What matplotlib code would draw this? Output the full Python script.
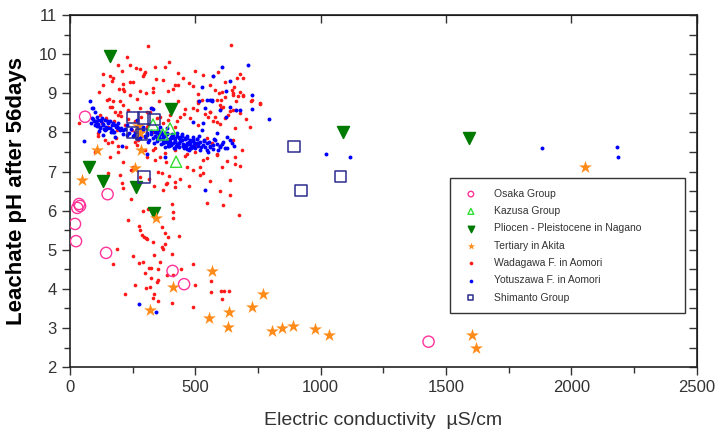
import numpy as np
import matplotlib
matplotlib.use('Agg')
import matplotlib.pyplot as plt
from matplotlib.ticker import MultipleLocator, NullFormatter

plt.rcParams['font.family'] = ['Liberation Sans', 'DejaVu Sans']

# Osaka Group
osaka_x = [60, 150, 36, 29, 40, 20, 24, 144, 409, 455, 1430]
osaka_y = [8.40, 6.42, 6.17, 6.07, 6.12, 5.66, 5.22, 4.92, 4.46, 4.12, 2.65]

# Kazusa Group
kazusa_x = [331, 399, 370, 423]
kazusa_y = [8.20, 8.10, 7.95, 7.25]

# Pliocen - Pleistocene in Nagano
nagano_x = [160, 403, 1089, 1591, 75, 130, 263, 335]
nagano_y = [9.95, 8.61, 8.01, 7.86, 7.11, 6.76, 6.61, 5.94]

# Tertiary in Akita
akita_x = [106, 47, 259, 283, 272, 279, 342, 565, 409, 770, 724, 634, 319, 554,
           630, 805, 844, 888, 977, 1033, 1605, 1621, 2053]
akita_y = [7.55, 6.78, 7.10, 7.55, 8.17, 7.98, 5.81, 4.46, 4.05, 3.87, 3.54, 3.41, 3.46, 3.26,
           3.02, 2.93, 3.00, 3.06, 2.97, 2.82, 2.82, 2.49, 7.12]

# Wadagawa F. in Aomori
wada_x = [311, 229, 190, 241, 263, 279, 339, 393, 379, 209, 298, 296, 133, 160, 498, 432,
          167, 213, 239, 343, 419, 432, 476, 213, 197, 332, 279, 392, 117, 303, 509, 239,
          155, 199, 170, 266, 356, 432, 509, 213, 160, 326, 492, 179, 306,
          642, 678, 667, 571, 578, 595, 608, 647, 651, 680, 688, 664, 671, 604, 598, 525,
          721, 757, 640, 664, 558, 551, 578, 604,
          209, 335, 383, 419, 372, 407, 409, 412, 274, 365, 286, 303, 380, 392, 436, 365,
          369, 189, 335, 405, 275, 290, 359, 173, 492, 316, 325, 352, 441, 412, 325, 352,
          345, 303, 259, 319, 498, 561, 561, 602, 614, 635, 607, 336, 330, 219, 407, 492,
          545, 611, 675, 310, 295, 306, 388,
          37, 113, 193, 210, 193, 266, 332, 306, 359, 383, 339, 213, 252, 365, 385, 419,
          465, 492, 518, 532, 585, 605, 638, 658, 678, 684, 718, 651, 598, 565, 532, 465,
          508, 545, 585, 618, 558, 611, 651, 678, 757, 724, 688, 651, 618, 585, 512, 505,
          458, 438, 392, 419, 359, 319, 279, 232, 199, 166, 146, 126, 153, 186, 219, 246,
          306, 332, 272, 166, 140, 100, 159, 193,
          # extra points read from the denser parts of the cloud
          120, 145, 175, 205, 230, 258, 285, 312, 345, 372, 398, 425, 455, 480, 510, 540,
          570, 600, 630, 660, 700, 130, 170, 215, 250, 290, 330, 370, 410, 450, 490, 530,
          560, 590, 620, 655, 690, 110, 150, 185, 225, 260, 300, 340, 380, 420, 460, 500,
          545, 585, 625, 660, 150, 200, 245, 280, 315, 350, 395, 440, 475, 520, 560, 600,
          640, 245, 290, 230, 280, 330, 380, 250, 300, 350]
wada_y = [10.22, 9.92, 9.72, 9.72, 9.64, 9.61, 9.68, 9.81, 9.67, 9.58, 9.55, 9.49, 9.50, 9.43, 9.58, 9.51,
          9.32, 9.25, 9.30, 9.36, 9.21, 9.21, 9.26, 9.10, 9.10, 9.13, 9.07, 9.07, 9.03, 9.00, 8.98, 8.95,
          8.85, 8.79, 8.79, 8.86, 8.79, 8.79, 8.74, 8.70, 8.64, 8.62, 8.62, 8.53, 8.51,
          10.24, 9.49, 9.38, 9.44, 9.09, 9.00, 9.04, 9.09, 8.96, 9.02, 8.94, 8.81, 8.92, 8.83, 8.70, 8.83,
          8.79, 8.73, 8.55, 8.57, 8.53, 8.39, 8.40, 8.62,
          6.71, 6.63, 6.68, 6.61, 6.54, 6.17, 5.96, 5.80, 5.61, 5.57, 5.38, 5.29, 5.42, 5.32, 5.35, 5.08,
          5.01, 5.02, 4.86, 4.89, 4.67, 4.69, 4.69, 4.63, 4.63, 4.54, 4.54, 4.52, 4.50, 4.35, 4.29, 4.23,
          4.18, 4.03, 4.11, 4.04, 4.11, 4.20, 3.93, 3.94, 3.94, 3.94, 3.73, 3.86, 3.77, 3.86, 3.65, 3.54,
          6.20, 6.14, 5.88, 6.03, 5.33, 5.27, 4.35,
          8.23, 7.98, 7.65, 7.25, 7.51, 7.68, 7.55, 7.38, 7.38, 7.25, 7.29, 6.57, 7.12, 6.95, 6.70, 6.74,
          7.12, 7.04, 7.12, 6.95, 7.42, 7.12, 6.78, 7.38, 7.15, 7.55, 8.15, 7.81, 7.64, 7.72, 7.29, 7.46,
          7.68, 7.85, 8.27, 8.36, 8.53, 8.66, 8.57, 8.49, 8.74, 8.83, 8.96, 9.00, 8.91, 8.83, 8.79, 8.57,
          8.59, 8.40, 8.32, 8.15, 8.40, 8.53, 8.62, 8.57, 8.53, 8.66, 8.83, 8.23, 8.15, 8.06, 8.19, 8.06,
          8.15, 8.02, 7.81, 7.76, 7.81, 7.51, 7.38, 8.45,
          8.45, 8.38, 8.30, 8.42, 8.35, 8.28, 8.40, 8.20, 8.36, 8.25, 8.44, 8.30, 8.46, 8.38, 8.18, 8.48,
          8.30, 8.22, 8.45, 8.10, 8.35, 9.20, 9.40, 9.05, 9.30, 9.45, 9.02, 9.35, 9.12, 9.40, 9.18, 9.48,
          9.22, 9.55, 9.28, 9.15, 9.40, 7.90, 7.72, 7.85, 7.62, 7.75, 7.55, 7.60, 7.48, 7.56, 7.40, 7.50,
          7.35, 7.45, 7.28, 7.20, 6.95, 6.90, 7.05, 6.85, 6.80, 7.00, 6.88, 6.82, 6.62, 6.90, 6.75, 6.50,
          6.40, 6.30, 6.00, 5.75, 5.50, 5.20, 5.15, 4.85, 4.40, 3.70]

# Yotuszawa F. in Aomori
yotu_x = [80, 93, 100, 330, 548, 516,
          607, 711, 638, 525, 624, 724, 558, 568, 638, 724, 664, 598, 678, 622, 794, 538,
          56, 89, 106, 113, 126, 140, 153, 173, 120, 146, 166, 193, 212, 133, 179, 226,
          206, 266, 279, 306, 325, 359, 385, 412, 438, 465, 492, 518, 545, 571, 598, 425,
          452, 478, 399, 372, 345, 492, 532, 565, 571, 645, 625, 585, 538, 306, 255, 379,
          418, 525, 512, 275, 343, 1023, 1116, 1882, 2180, 2185,
          85, 92, 98, 104, 110, 118, 124, 132, 138, 145, 152, 160, 168, 175, 182, 190,
          198, 205, 212, 220, 228, 236, 244, 252, 260, 268, 276, 284, 292, 300, 308, 316,
          324, 332, 340, 348, 356, 364, 372, 380, 388, 396, 404, 412, 420, 428, 436, 444,
          452, 460, 468, 476, 484, 492, 500, 510, 520, 530, 540, 555, 570, 585, 600,
          350, 362, 375, 385, 395, 405, 415, 425, 435, 445, 455, 465, 475, 490, 505, 515,
          535, 550, 560, 580, 610, 625, 392, 402, 418, 432, 448, 462, 478, 495, 340, 356,
          95, 108, 122, 136, 150, 164, 178, 192, 88, 102, 116, 130, 144, 158, 172, 186,
          360, 370, 380, 390, 400, 410, 420, 430, 440, 450, 460, 470, 480, 490, 500, 510,
          365, 378, 388, 398, 408, 422, 436, 446, 456, 468, 482, 496, 508, 522, 536, 548,
          300, 312, 322, 334, 346, 280, 290, 560, 575, 590, 605, 620, 640, 655]
yotu_y = [8.79, 8.62, 8.53, 8.60, 8.83, 8.79,
          9.67, 9.72, 9.32, 9.15, 9.06, 8.96, 8.83, 8.79, 8.64, 8.59, 8.57, 8.56, 8.57, 8.40, 8.34, 8.62,
          7.79, 8.62, 8.40, 8.32, 8.36, 8.32, 8.27, 8.23, 8.15, 8.10, 8.06, 8.10, 8.06, 7.93, 7.89, 7.93,
          7.64, 8.32, 7.98, 7.93, 8.62, 8.15, 7.98, 7.93, 7.89, 7.85, 7.81, 7.76, 7.72, 7.68, 7.64, 7.68,
          7.64, 7.59, 7.76, 7.81, 7.85, 8.27, 8.23, 8.83, 9.43, 7.74, 7.89, 7.98, 6.54, 7.46, 7.93, 7.38,
          7.59, 8.06, 7.70, 3.61, 3.42, 7.44, 7.38, 7.61, 7.62, 7.36,
          8.25, 8.35, 8.18, 8.30, 8.22, 8.12, 8.28, 8.20, 8.05, 8.15, 8.30, 8.10, 8.20, 8.02, 8.15, 8.25,
          8.05, 8.12, 7.95, 8.08, 8.18, 7.98, 8.08, 7.90, 8.02, 7.85, 8.10, 7.92, 8.05, 7.88, 7.98, 7.80,
          7.95, 7.85, 8.02, 7.78, 7.92, 7.70, 7.88, 7.75, 7.95, 7.82, 7.68, 7.85, 7.75, 7.90, 7.62, 7.80,
          7.70, 7.85, 7.58, 7.75, 7.65, 7.78, 7.60, 7.72, 7.55, 7.68, 7.62, 7.75, 7.58, 7.70, 7.62,
          8.05, 8.00, 7.95, 8.10, 7.65, 7.95, 7.60, 7.98, 7.85, 7.95, 7.60, 7.92, 7.55, 7.88, 7.82, 7.92,
          7.80, 7.50, 7.65, 7.80, 7.75, 7.60, 7.72, 7.88, 7.78, 7.70, 7.80, 7.66, 7.74, 7.64, 7.90, 7.96,
          8.28, 8.16, 8.32, 8.08, 8.24, 8.00, 8.18, 8.12, 8.38, 8.26, 8.04, 8.22, 8.08, 8.28, 8.00, 8.16,
          7.84, 7.72, 7.90, 7.66, 7.82, 7.74, 7.86, 7.70, 7.78, 7.66, 7.82, 7.70, 7.80, 7.62, 7.74, 7.66,
          7.96, 7.62, 7.80, 7.70, 7.88, 7.64, 7.72, 7.92, 7.68, 7.74, 7.60, 7.70, 7.84, 7.62, 7.78, 7.56,
          7.90, 7.76, 8.04, 7.72, 7.98, 7.86, 8.14, 7.62, 7.82, 7.54, 7.70, 7.60, 7.80, 7.66]

# Shimanto Group
shim_x = [251, 295, 335, 250, 285, 295, 893, 921, 1079]
shim_y = [8.39, 8.37, 8.32, 8.00, 7.95, 6.86, 7.63, 6.51, 6.88]

fig = plt.figure(figsize=(7.18, 4.36), dpi=100)
ax = fig.add_axes([0.0975, 0.158, 0.873, 0.8075])

ax.scatter(osaka_x, osaka_y, s=65, marker='o', facecolors='none', edgecolors='#ff3399',
           linewidths=1.0, label='Osaka Group', zorder=3)
ax.scatter(kazusa_x, kazusa_y, s=65, marker='^', facecolors='none', edgecolors='#33dd33',
           linewidths=1.0, label='Kazusa Group', zorder=3)
ax.scatter(nagano_x, nagano_y, s=75, marker='v', color='#007a00',
           label='Pliocen - Pleistocene in Nagano', zorder=3)
ax.scatter(akita_x, akita_y, s=95, marker='*', color='#ff8c1a', linewidths=0,
           label='Tertiary in Akita', zorder=3)
ax.scatter(wada_x, wada_y, s=7, marker='o', color='#ff1a1a', linewidths=0,
           label='Wadagawa F. in Aomori', zorder=2)
ax.scatter(yotu_x, yotu_y, s=8, marker='o', color='#0000ff', linewidths=0,
           label='Yotuszawa F. in Aomori', zorder=2)
ax.scatter(shim_x, shim_y, s=65, marker='s', facecolors='none', edgecolors='#2b2b8f',
           linewidths=1.1, label='Shimanto Group', zorder=4)

ax.set_xlim(0, 2500)
ax.set_ylim(2, 11)
ax.xaxis.set_major_locator(MultipleLocator(500))
ax.xaxis.set_minor_locator(MultipleLocator(250))
ax.yaxis.set_major_locator(MultipleLocator(1))
ax.yaxis.set_minor_locator(MultipleLocator(0.5))

ax.tick_params(which='both', direction='out', colors='#333333', labelsize=12)
ax.tick_params(which='major', length=6, width=1)
ax.tick_params(which='minor', length=4, width=1)
for s in ax.spines.values():
    s.set_linewidth(1.2)
    s.set_color('#222222')

# inward ticks on the top (majors) and right (majors + minors)
top = ax.secondary_xaxis('top')
top.xaxis.set_major_locator(MultipleLocator(500))
top.xaxis.set_major_formatter(NullFormatter())
top.tick_params(direction='in', length=6, width=1, colors='#333333')
right = ax.secondary_yaxis('right')
right.yaxis.set_major_locator(MultipleLocator(1))
right.yaxis.set_minor_locator(MultipleLocator(0.5))
right.yaxis.set_major_formatter(NullFormatter())
right.tick_params(which='both', direction='in', length=6, width=1, colors='#333333')

ax.set_xlabel('Electric conductivity  \u00b5S/cm', fontsize=14, color='#333333', labelpad=12)
ax.set_ylabel('Leachate pH after 56days', fontsize=16, fontweight='bold', labelpad=8)

leg = ax.legend(loc='lower left', bbox_to_anchor=(0.598, 0.139, 0.391, 0.378), mode='expand',
                fontsize=7.5, frameon=True, fancybox=False,
                handletextpad=1.2, borderpad=1.0, labelspacing=0.7)
leg.get_frame().set_edgecolor('black')
leg.get_frame().set_linewidth(1.0)
for t in leg.get_texts():
    t.set_color('#333333')
# small legend symbols, dots kept visible
for h, sz in zip(leg.legend_handles, [16, 18, 22, 30, 7, 7, 14]):
    h.set_sizes([sz])

fig.savefig('out.png', dpi=100)
